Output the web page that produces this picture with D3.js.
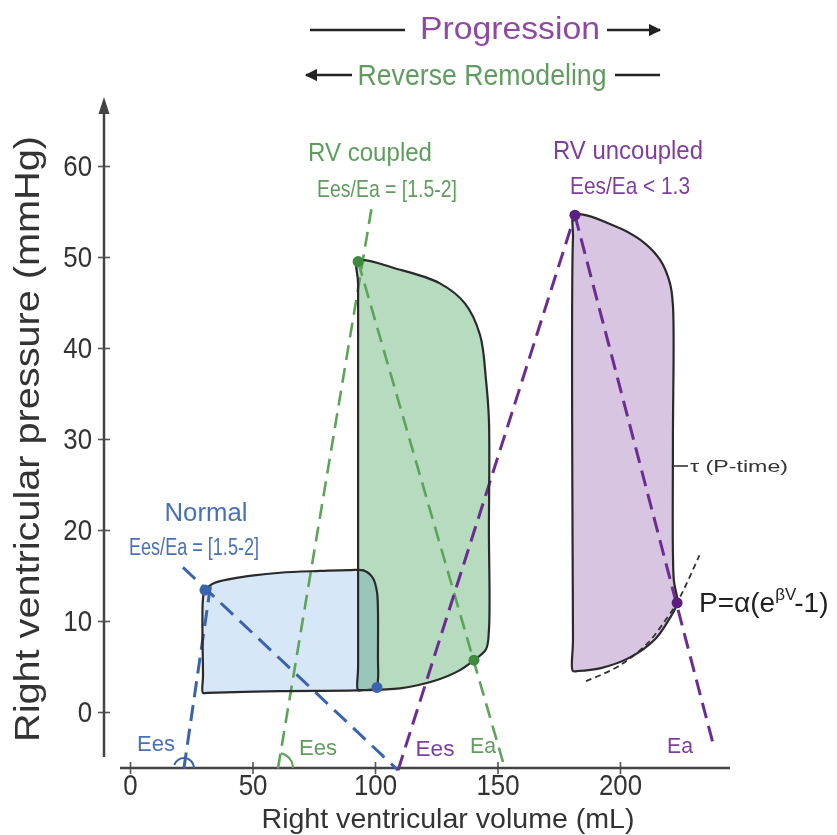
<!DOCTYPE html>
<html>
<head>
<meta charset="utf-8">
<script src="https://cdn.jsdelivr.net/npm/d3@7"></script>
<style>
  body { margin: 0; background: #fff; }
  text { font-family: "Liberation Sans", Arial, sans-serif; }
</style>
</head>
<body>
<svg id="chart" width="837" height="835"></svg>
<script>
// Axis ticks
const volumeTicks = [0, 50, 100, 150, 200];
const pressureTicks = [0, 10, 20, 30, 40, 50, 60];

// Pressure-volume loops, [volume (mL), pressure (mmHg)]
const normalLoop = [[30.6,13.4],[34.7,14.2],[44.9,14.8],[61.2,15.3],[77.6,15.5],[89.8,15.6],[95.9,15.5],[99.2,14.7],[100.8,13.2],[101.2,11.2],[101.2,6],[101.2,3.5],[100.4,2.6],[93.9,2.4],[61.2,2.3],[31.5,2.1],[29.8,2.1],[29.8,4],[29.8,12.5]];
const coupledLoop = [[93.1,49.5],[110.2,48.6],[126.5,47.1],[136.7,44.9],[142.9,41.4],[145.3,36.5],[146.5,32.1],[146.5,20],[146.5,9.0],[145.3,6.9],[140.4,5.7],[134.7,4.6],[124.0,3.4],[110.2,2.6],[95,2.4],[93.1,2.4],[93.1,5],[93.1,47]];
const uncoupledLoop = [[181.6,54.6],[197.1,53.5],[208.2,51.9],[216.3,49.7],[220.4,47.1],[221.6,44.7],[221.6,30],[221.6,17.5],[222.0,14.4],[223.3,12.0],[219.6,10.0],[214.3,8.0],[204.1,6.0],[191.8,4.8],[182.5,4.5],[180.8,4.5],[180.8,8],[180.8,52]];

// End-systolic and end-diastolic points
const normalPoints = [[30.6,13.4],[100.8,2.7]];
const coupledPoints = [[93.1,49.5],[140.4,5.7]];
const uncoupledPoints = [[181.6,54.6],[223.3,12.0]];

// Elastance lines (Ees, Ea)
const normalEes = [[22.0,-6.2],[33.1,14.3]];
const normalEa = [[21.6,15.9],[109.4,-6.4]];
const coupledEes = [[60.4,-6.2],[98.8,55.7]];
const coupledEa = [[93.1,49.5],[153.0,-6.2]];
const uncoupledEes = [[109.4,-6.4],[181.6,54.6]];
const uncoupledEa = [[181.6,54.6],[238.0,-3.5]];

// End-diastolic pressure-volume relationship
const edpvr = [[186.1,3.4],[199.2,5.0],[211.4,7.6],[219.6,10.5],[223.3,12.0],[232.4,17.2]];

const svg = d3.select("#chart");
const x = d3.scaleLinear().domain([0, 200]).range([130, 620]);
const y = d3.scaleLinear().domain([0, 60]).range([712, 166]);

const BLUE = "#3b63ad", BLUE_T = "#4a70b6";
const GREEN = "#5ea35c", GREEN_T = "#5f9c5d";
const PURPLE = "#6c2d90", PURPLE_T = "#7e3f9c";
const INK = "#2a2a2a";

// Squeeze a text to a given width (condensed lettering)
function fit(sel, width) {
  sel.attr("textLength", width).attr("lengthAdjust", "spacingAndGlyphs");
  return sel;
}
function condense(sel, k) {
  sel.each(function () {
    const w = this.getComputedTextLength();
    d3.select(this).attr("textLength", w * k).attr("lengthAdjust", "spacingAndGlyphs");
  });
}

const loopLine = d3.line().x(d => x(d[0])).y(d => y(d[1])).curve(d3.curveCatmullRomClosed.alpha(0.5));
const straight = d3.line().x(d => x(d[0])).y(d => y(d[1]));

// Loop fills
svg.append("path").attr("d", loopLine(normalLoop)).attr("fill", "#d7e7f7");
svg.append("path").attr("d", loopLine(coupledLoop)).attr("fill", "#b6dbbf").style("mix-blend-mode", "multiply");
svg.append("path").attr("d", loopLine(uncoupledLoop)).attr("fill", "#d8c5e2");

// Axes
const gY = svg.append("g").attr("transform", "translate(110,0)")
  .call(d3.axisLeft(y).tickValues(pressureTicks).tickSize(12).tickPadding(6));
const gX = svg.append("g").attr("transform", "translate(0,762)")
  .call(d3.axisBottom(x).tickValues(volumeTicks).tickSize(12).tickPadding(0));
[gY, gX].forEach(g => {
  g.select(".domain").remove();
  g.selectAll(".tick line").attr("stroke", "#555").attr("stroke-width", 1.6);
  g.selectAll(".tick text").attr("fill", "#333").style("font-size", "30px")
    .style("font-family", "'Liberation Sans', Arial, sans-serif");
  condense(g.selectAll(".tick text"), 0.86);
});
svg.append("line").attr("x1", 104).attr("x2", 104).attr("y1", 757).attr("y2", 110)
  .attr("stroke", "#444").attr("stroke-width", 2.5);
svg.append("path").attr("d", "M104,97 L98.5,114 L109.5,114 Z").attr("fill", "#444");
svg.append("line").attr("x1", 120).attr("x2", 730).attr("y1", 768).attr("y2", 768)
  .attr("stroke", "#444").attr("stroke-width", 2.5);

fit(svg.append("text").attr("transform", "translate(39,439) rotate(-90)")
  .attr("text-anchor", "middle").attr("fill", "#333").style("font-size", "35px")
  .text("Right ventricular pressure (mmHg)"), 606);
fit(svg.append("text").attr("x", 448).attr("y", 828)
  .attr("text-anchor", "middle").attr("fill", "#333").style("font-size", "28px")
  .text("Right ventricular volume (mL)"), 373);

// Elastance lines
function dashed(data, color, width, dash) {
  svg.append("path").attr("d", straight(data)).attr("fill", "none")
    .attr("stroke", color).attr("stroke-width", width).attr("stroke-dasharray", dash);
}
dashed(normalEes, BLUE, 3, "16,8");
dashed(normalEa, BLUE, 3, "17,9");
dashed(coupledEes, GREEN, 2.6, "15,8");
dashed(coupledEa, GREEN, 2.6, "15,8");
dashed(uncoupledEes, PURPLE, 3, "16,8");
dashed(uncoupledEa, PURPLE, 3, "16,8");

svg.append("path").attr("d", d3.line().x(d => x(d[0])).y(d => y(d[1])).curve(d3.curveCatmullRom)(edpvr))
  .attr("fill", "none").attr("stroke", "#333").attr("stroke-width", 1.8).attr("stroke-dasharray", "6,4");

// Angle marks at the base of the Ees lines
function angleMark(line, r, a0, a1, color) {
  const bx = x(line[0][0]), by = 768;
  const arc = d3.arc().innerRadius(r).outerRadius(r).startAngle(a0).endAngle(a1);
  svg.append("path").attr("d", arc()).attr("transform", `translate(${bx},${by})`)
    .attr("fill", "none").attr("stroke", color).attr("stroke-width", 2);
}
angleMark(normalEes, 10, -Math.PI / 2 + 0.3, Math.PI / 2, BLUE);
angleMark(coupledEes, 15, 0.2, Math.PI / 2, GREEN);

// Loop outlines
[normalLoop, coupledLoop, uncoupledLoop].forEach(l => {
  svg.append("path").attr("d", loopLine(l)).attr("fill", "none")
    .attr("stroke", INK).attr("stroke-width", 2.2);
});

// Key points
function dots(pts, color) {
  svg.selectAll(null).data(pts).enter().append("circle")
    .attr("cx", d => x(d[0])).attr("cy", d => y(d[1])).attr("r", 5.5).attr("fill", color);
}
dots(normalPoints, BLUE);
dots(coupledPoints, "#3f8a3f");
dots(uncoupledPoints, "#5a1f80");

// Labels
function label(txt, px, py, color, size, width) {
  const t = svg.append("text").attr("x", px).attr("y", py).attr("text-anchor", "middle")
    .attr("fill", color).style("font-size", size + "px").text(txt);
  if (width) fit(t, width);
  return t;
}
label("Progression", 510, 39, "#8d4aa2", 32, 180);
label("Reverse Remodeling", 482, 85, GREEN_T, 30, 249);
label("RV coupled", 370, 161, GREEN_T, 26, 124);
label("Ees/Ea = [1.5-2]", 387, 197, GREEN_T, 24, 140);
label("RV uncoupled", 628, 159, PURPLE_T, 26, 150);
label("Ees/Ea < 1.3", 630, 194, PURPLE_T, 24, 120);
label("Normal", 206, 521, BLUE_T, 26, 83);
label("Ees/Ea = [1.5-2]", 194, 555, BLUE_T, 23, 130);
label("Ees", 156, 751, BLUE_T, 22, 38);
label("Ees", 318, 755, GREEN_T, 22, 38);
label("Ees", 435, 756, PURPLE_T, 22, 39);
label("Ea", 483, 753, GREEN_T, 22, 26);
label("Ea", 680, 753, PURPLE_T, 22, 26);

// Relaxation-time tag on the uncoupled loop
svg.append("line").attr("x1", x(221.6)).attr("x2", 688).attr("y1", 466).attr("y2", 466)
  .attr("stroke", "#333").attr("stroke-width", 1.6);
fit(svg.append("text").attr("x", 690).attr("y", 472).attr("fill", "#333")
  .style("font-size", "16px").text("τ (P-time)"), 98);

const formula = svg.append("text").attr("x", 699).attr("y", 612).attr("fill", "#222").style("font-size", "28px");
formula.append("tspan").text("P=α(e");
formula.append("tspan").attr("dy", -12).style("font-size", "17px").text("βV");
formula.append("tspan").attr("dy", 12).attr("dx", -2).text("-1)");

// Direction arrows
const arrowInk = "#222";
svg.append("defs").append("marker").attr("id", "head").attr("viewBox", "0 0 10 10")
  .attr("refX", 9).attr("refY", 5).attr("markerWidth", 5).attr("markerHeight", 5).attr("orient", "auto-start-reverse")
  .append("path").attr("d", "M0,0 L10,5 L0,10 Z").attr("fill", arrowInk);
svg.append("line").attr("x1", 310).attr("x2", 405).attr("y1", 30).attr("y2", 30).attr("stroke", arrowInk).attr("stroke-width", 2.5);
svg.append("line").attr("x1", 607).attr("x2", 660).attr("y1", 30).attr("y2", 30).attr("stroke", arrowInk).attr("stroke-width", 2.5).attr("marker-end", "url(#head)");
svg.append("line").attr("x1", 306).attr("x2", 352).attr("y1", 75).attr("y2", 75).attr("stroke", arrowInk).attr("stroke-width", 2.5).attr("marker-start", "url(#head)");
svg.append("line").attr("x1", 615).attr("x2", 660).attr("y1", 75).attr("y2", 75).attr("stroke", arrowInk).attr("stroke-width", 2.5);
</script>
</body>
</html>
